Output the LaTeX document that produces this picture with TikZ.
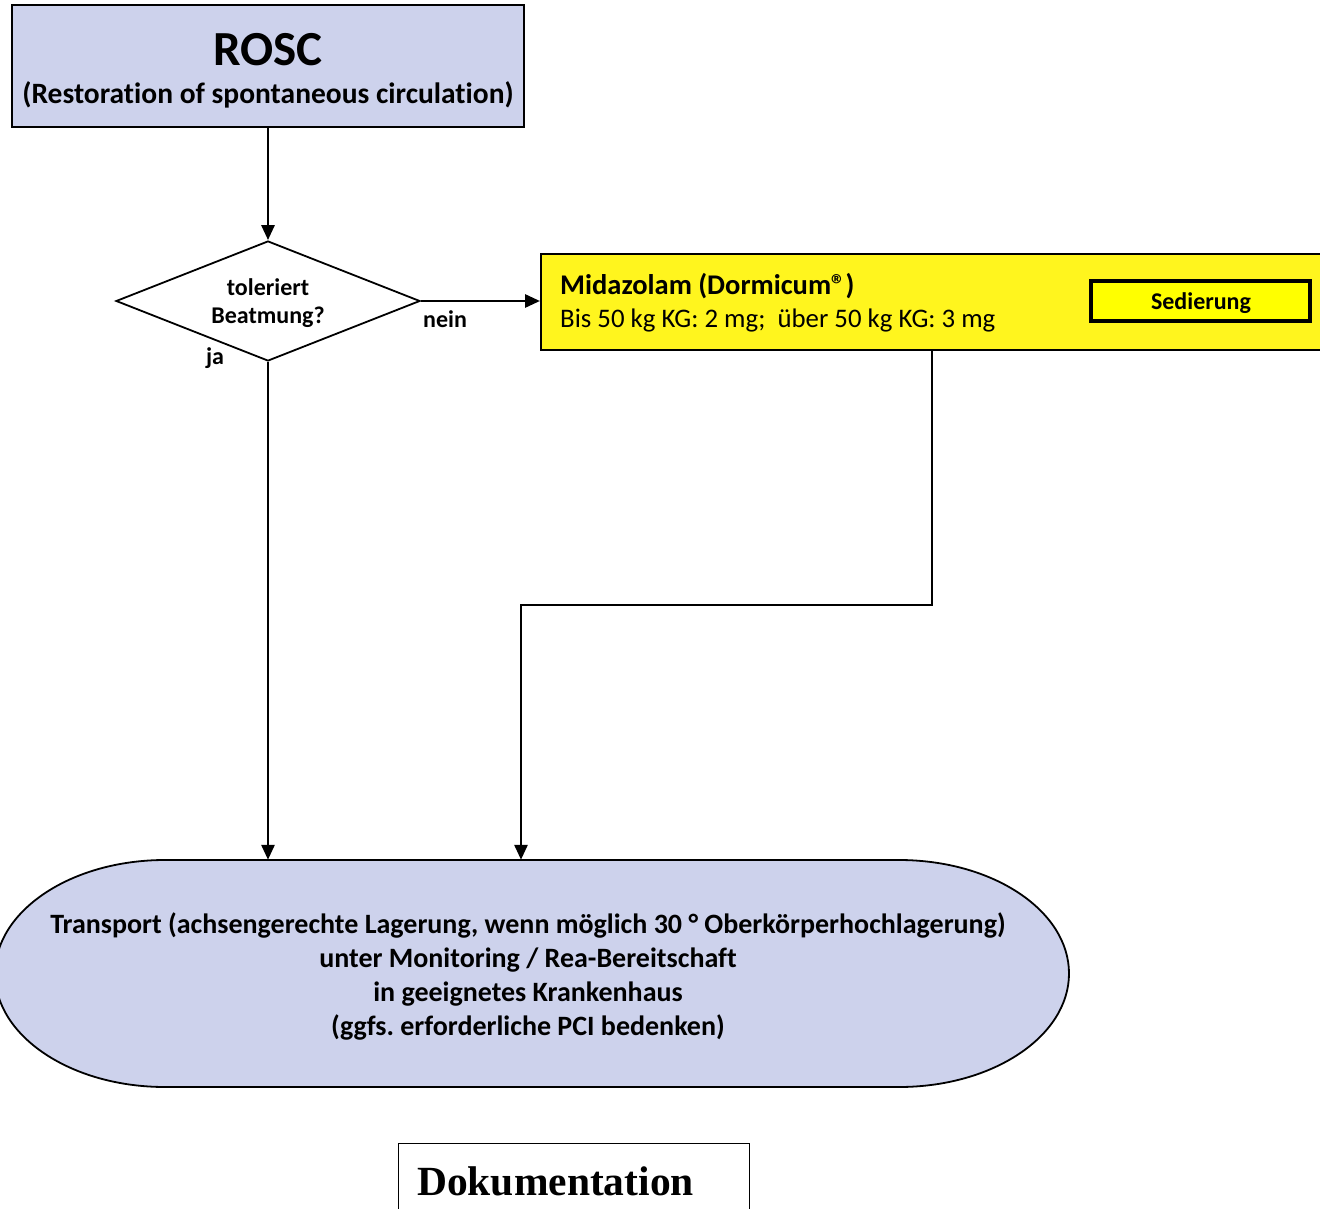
\documentclass[tikz,border=0pt]{standalone}
\usepackage{fontspec}
\setmainfont{Carlito}[Ligatures=NoCommon]
\newfontfamily\timesfont{Liberation Serif}
\usetikzlibrary{arrows.meta,shapes.geometric}
\definecolor{lavender}{RGB}{205,210,236}
\definecolor{drugyellow}{RGB}{255,245,30}
\definecolor{tagyellow}{RGB}{255,255,0}
\begin{document}
\begin{tikzpicture}[x=1pt,y=-1pt,
  box/.style={draw=black,line width=1.8pt,inner sep=0pt},
  flow/.style={line width=2.8pt,-{Triangle[length=15pt,width=13pt]}},
  txt/.style={anchor=base,inner sep=0pt},
  lbl/.style={txt,font=\bfseries\fontsize{24}{28}\selectfont},
  body/.style={txt,font=\bfseries\fontsize{28}{32}\selectfont},
]
\clip (0,0) rectangle (1320,1209);
\fill[white] (0,0) rectangle (1320,1209);

% start box
\node[box,fill=lavender,minimum width=512pt,minimum height=122pt] (rosc) at (268,66) {};
\node[txt] (roscTitle) at (268,66) {\bfseries\fontsize{49}{56}\selectfont ROSC};
\node[txt] (roscSub) at (268,104) {\bfseries\fontsize{29.5}{34}\selectfont (Restoration of spontaneous circulation)};

% decision
\node[box,diamond,fill=white,minimum width=304pt,minimum height=120pt] (q) at (268,301) {};
\node[lbl] (q1) at (268,295) {toleriert};
\node[lbl] (q2) at (268,323) {Beatmung?};
\node[lbl] (nein) at (445,327) {nein};
\node[lbl] (ja) at (215,364) {ja};

% sedation box
\node[box,fill=drugyellow,anchor=north west,minimum width=800pt,minimum height=96pt] (mid) at (540,253) {};
\node[txt,anchor=base west] (mid1) at (560,294) {\bfseries\fontsize{28.5}{32}\selectfont Midazolam (Dormicum®)};
\node[txt,anchor=base west] (mid2) at (560,327) {\fontsize{26.8}{32}\selectfont Bis 50 kg KG: 2 mg;\ \ über 50 kg KG: 3 mg};
\node[draw=black,line width=3.2pt,fill=tagyellow,minimum width=219pt,minimum height=40pt,inner sep=0pt] (sed) at (1200.5,301) {};
\node[lbl] (sedTxt) at (1201,309) {Sedierung};

% transport (stadium)
\node[inner sep=0pt,minimum width=1074pt,minimum height=227pt] (transport) at (532,973.5) {};
\draw[line width=1.8pt,fill=lavender] (165,860) -- (899,860)
  arc[start angle=-90,end angle=90,x radius=170,y radius=113.5] -- (165,1087)
  arc[start angle=90,end angle=270,x radius=170,y radius=113.5] -- cycle;
\node[body] (t1) at (528,933) {Transport (achsengerechte Lagerung, wenn möglich 30 ° Oberkörperhochlagerung)};
\node[body] (t2) at (528,967) {unter Monitoring / Rea-Bereitschaft};
\node[body] (t3) at (528,1001) {in geeignetes Krankenhaus};
\node[body] (t4) at (528,1035) {(ggfs.\ erforderliche PCI bedenken)};

% documentation
\node[draw=black,line width=1pt,anchor=north west,minimum width=351pt,minimum height=100pt,inner sep=0pt] (doc) at (398,1143) {};
\node[txt,anchor=base west] (docTxt) at (417,1195) {\timesfont\bfseries\fontsize{41.5}{48}\selectfont Dokumentation};

% connectors
\coordinate (bendA) at (932,605);
\coordinate (bendB) at (521,605);
\draw[flow] (rosc.south) -- (q.north);
\draw[flow] (q.east) -- (q.east -| mid.west);
\draw[flow] (q.south) -- (q.south |- transport.north);
\draw[flow] (bendA |- mid.south) -- (bendA) -- (bendB) -- (bendB |- transport.north);
\end{tikzpicture}
\end{document}
